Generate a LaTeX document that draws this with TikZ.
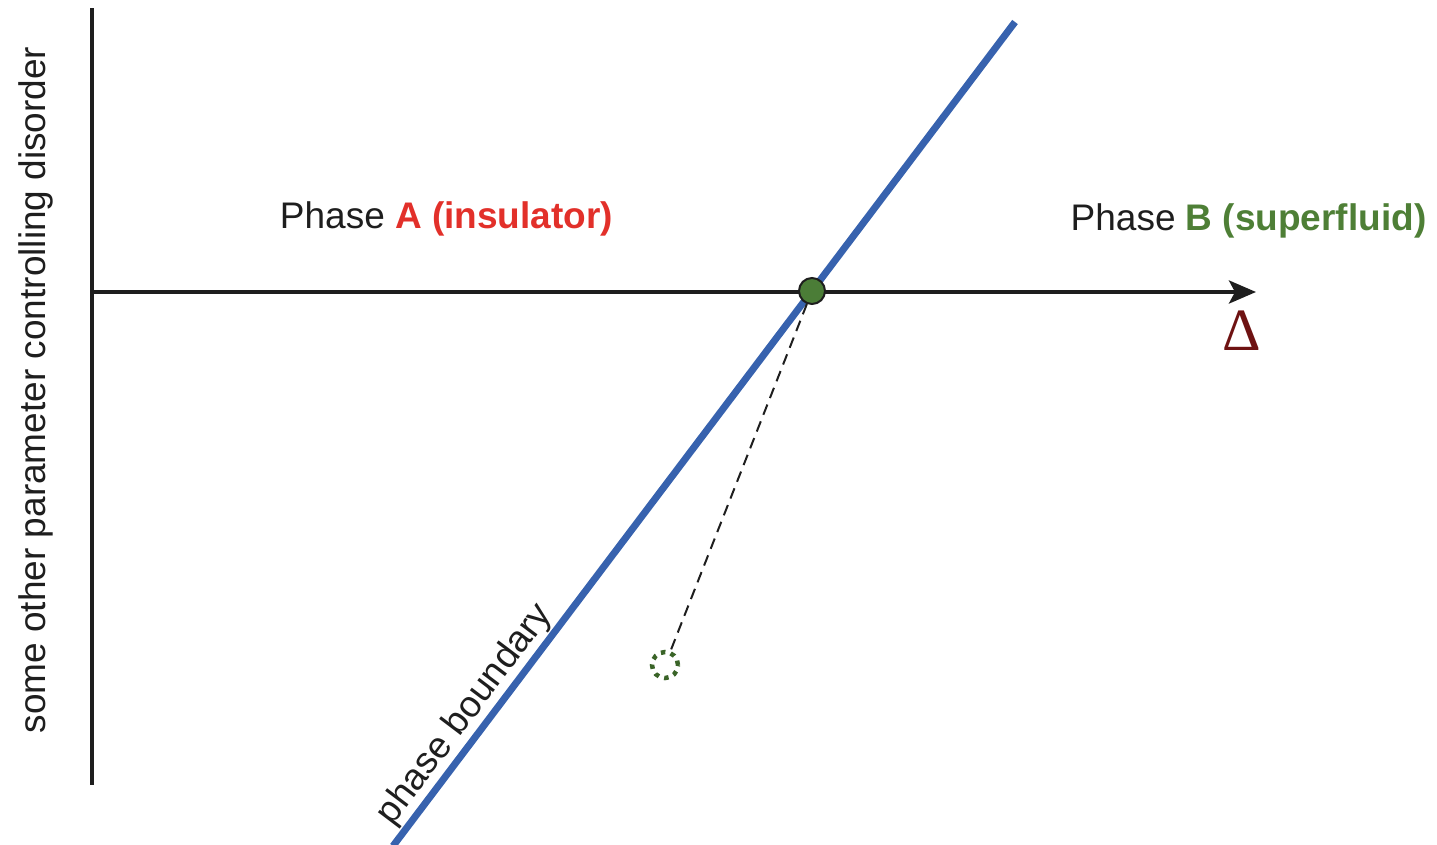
\documentclass[tikz,border=0pt]{standalone}
\usepackage{fontspec}
\setmainfont{Liberation Sans}
\newfontfamily\serifdelta{Liberation Serif}
\usetikzlibrary{arrows.meta}
\definecolor{bluebound}{HTML}{3762AE}
\definecolor{redA}{HTML}{E2302A}
\definecolor{greenB}{HTML}{4E7F36}
\definecolor{dotgreen}{HTML}{4B7D37}
\definecolor{ghostgreen}{HTML}{3A6428}
\definecolor{deltared}{HTML}{6E1212}
\definecolor{axisgray}{HTML}{1E1E1E}
\tikzset{
  axisline/.style={line width=4pt, draw=axisgray},
  boundary/.style={line width=7pt, draw=bluebound},
  lbl/.style={font=\fontsize{37}{40}\selectfont, text=axisgray, inner sep=0pt},
  critdot/.style={circle, fill=dotgreen, draw=axisgray, line width=2pt, minimum size=26pt, inner sep=0pt},
  ghostdot/.style={circle, draw=ghostgreen, line width=4.5pt, dash pattern=on 4.5pt off 5.5pt, minimum size=26pt, inner sep=0pt},
  dashlink/.style={draw=axisgray, line width=2pt, dash pattern=on 11pt off 7pt}
}
\begin{document}
\begin{tikzpicture}[x=1pt,y=-1pt]
\useasboundingbox (0,0) rectangle (1437,844);
% axes
\coordinate (ytop) at (92,8);
\coordinate (ybot) at (92,785);
\coordinate (xl) at (90,292);
\coordinate (xr) at (1256,292);
\draw[axisline] (ytop) -- (ybot);
\draw[axisline, -{Stealth[length=27pt,width=23pt,inset=6pt]}] (xl) -- (xr);
% phase boundary
\coordinate (pb1) at (393,846);
\coordinate (pb2) at (1015,22);
\draw[boundary] (pb1) -- (pb2);
% labels
\node[lbl, rotate=90] (ylab) at (36,390) {some other parameter controlling disorder};
\node[lbl] (phA) at (446.5,219) {Phase \textcolor{redA}{\bfseries A (insulator)}};
\node[lbl] (phB) at (1248.5,221) {Phase \textcolor{greenB}{\bfseries B (superfluid)}};
\node[inner sep=0pt, text=deltared, font=\serifdelta\fontsize{60}{64}\selectfont] (delta) at (1242,331) {Δ};
\node[lbl, rotate=52.9, anchor=south, inner sep=5pt, font=\fontsize{37}{40}\selectfont] (pblab) at (483,728) {phase boundary};
% points
\node[critdot] (crit) at (812,291) {};
\node[ghostdot] (ghost) at (665,665) {};
\draw[dashlink] (crit) -- (ghost);
\end{tikzpicture}
\end{document}
